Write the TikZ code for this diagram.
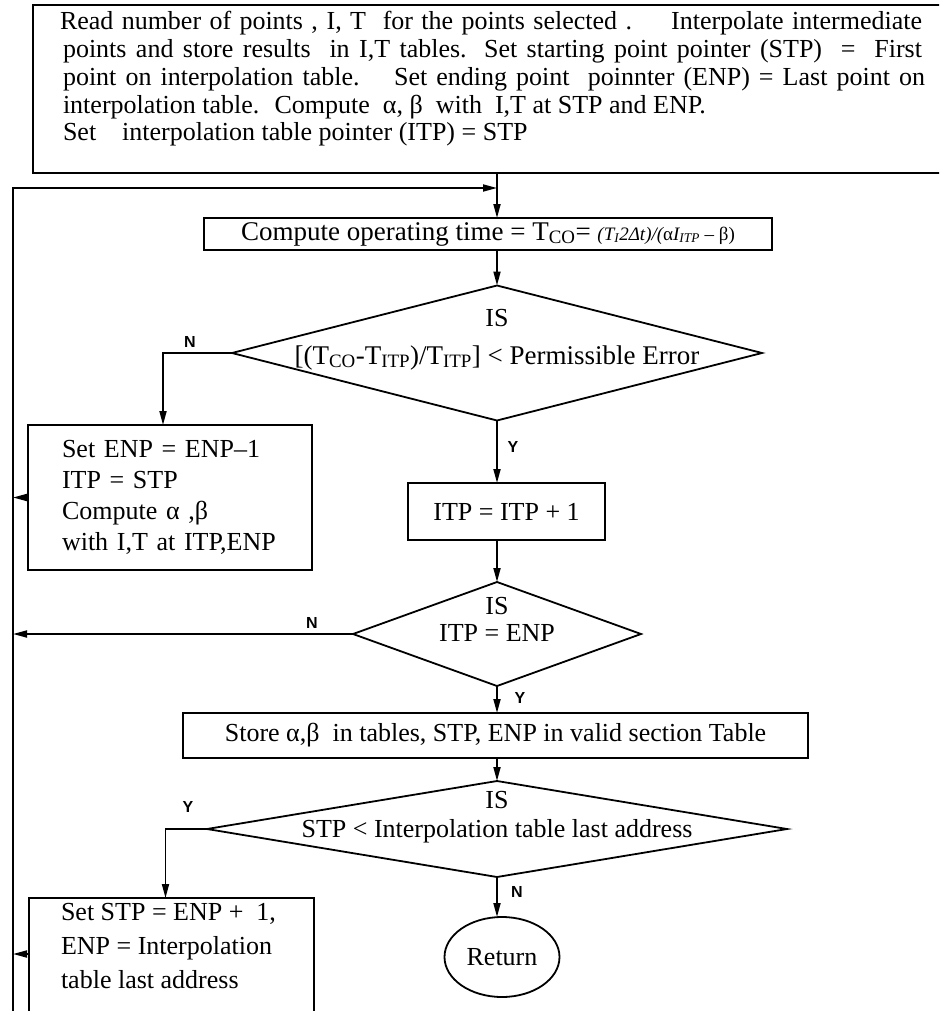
\documentclass[tikz,border=0pt]{standalone}
\usepackage{fontspec}
\setmainfont{Liberation Serif}
\newfontfamily\lblfont{Liberation Sans}
\usetikzlibrary{shapes.geometric,arrows.meta}
\begin{document}
\begin{tikzpicture}[x=1pt,y=-1pt,
  every node/.style={inner sep=0pt,outer sep=0pt},
  ln/.style={line width=1.8pt},
  arr/.style={ln,-{Triangle[length=14pt,width=7pt]}},
  boxst/.style={draw,ln,rectangle},
  dia/.style={draw,ln,diamond},
  bt/.style={font=\fontsize{26}{31}\selectfont},
  tt/.style={font=\fontsize{26}{28}\selectfont},
  yn/.style={font=\lblfont\bfseries\fontsize{16}{16}\selectfont}
]
\useasboundingbox (0,0) rectangle (939,1011);
\clip (0,0) rectangle (939,1011);

% top box
\node[boxst, anchor=north west, minimum width=912pt, minimum height=168pt] (top) at (33,5) {};
\node[tt, anchor=base west] (t1) at (60,30) {\makebox[862pt][s]{Read number of points , I, T \ for the points selected . \ \ \ Interpolate intermediate}};
\node[tt, anchor=base west] (t2) at (63,58) {\makebox[859pt][s]{points and store results \ in I,T tables. Set starting point pointer (STP) \ = \ First}};
\node[tt, anchor=base west] (t3) at (63,86) {\makebox[862pt][s]{point on interpolation table. \ \ Set ending point \ poinnter (ENP) = Last point on}};
\node[tt, anchor=base west] (t4) at (63,114) {interpolation table. \ Compute \ α, β \ with \ I,T at STP and ENP.};
\node[tt, anchor=base west] (t5) at (63,141) {Set \ \ \ interpolation table pointer (ITP) = STP};

% compute box
\node[boxst, font=\fontsize{27}{31}\selectfont, minimum width=568pt, minimum height=32pt] (cmp) at (488,234)
  {Compute operating time = T\textsubscript{CO}= {\fontsize{19}{19}\selectfont\itshape (T\textsubscript{I}2Δt)/(\upshape α\itshape I\textsubscript{ITP}\upshape\ – β)}};

% diamond 1
\node[dia, minimum width=530pt, minimum height=135pt] (d1) at (497,353) {};
\node[bt, anchor=base] (d1a) at (497,326) {IS};
\node[font=\fontsize{27}{31}\selectfont, anchor=base] (d1b) at (497,364) {[(T\textsubscript{CO}-T\textsubscript{ITP})/T\textsubscript{ITP}] < Permissible Error};

% ENP box
\node[boxst, bt, minimum width=284pt, minimum height=145pt, text width=216pt, align=left] (enp) at (170,497.5)
  {Set ENP = ENP–1\\ITP = STP\\Compute α ,β\\with I,T at ITP,ENP};

% ITP box
\node[boxst, bt, minimum width=197pt, minimum height=57pt] (itp) at (506.5,511.5) {ITP = ITP + 1};

% diamond 2
\node[dia, minimum width=288pt, minimum height=104pt] (d2) at (497,634) {};
\node[bt, anchor=base] (d2a) at (497,614) {IS};
\node[bt, anchor=base] (d2b) at (497,641) {ITP = ENP};

% store box
\node[boxst, bt, minimum width=625pt, minimum height=45pt] (store) at (495.5,735.5)
  {Store α,β \ in tables, STP, ENP in valid section Table};

% diamond 3
\node[dia, minimum width=580pt, minimum height=96pt] (d3) at (497,829) {};
\node[bt, anchor=base] (d3a) at (497,808) {IS};
\node[bt, anchor=base] (d3b) at (497,837) {STP < Interpolation table last address};

% STP box
\node[boxst, anchor=north west, minimum width=285pt, minimum height=140pt] (stp) at (29,898) {};
\node[font=\fontsize{26}{34}\selectfont, anchor=north west, align=left] (stpt) at (61,903)
  {Set STP = ENP + \ 1,\\ENP = Interpolation\\table last address};

% return
\node[draw, ln, ellipse, bt, minimum width=115pt, minimum height=80pt] (ret) at (502,957) {Return};

% feedback line
\coordinate (fbt) at (13,188);
\coordinate (fbb) at (13,1030);
\draw[arr] (fbb) -- (fbt) -- (fbt -| d1.north);

% main flow
\draw[arr] (top.south -| d1.north) -- (cmp.north -| d1.north);
\draw[arr] (cmp.south -| d1.north) -- (d1.north);
\draw[arr] (d1.west) -| ([xshift=-7pt]enp.north);
\draw[arr] (enp.west) -- (enp.west -| fbt);
\draw[arr] (d1.south) -- (itp.north -| d1.south);
\draw[arr] (itp.south -| d1.south) -- (d2.north);
\draw[arr] (d2.west) -- (d2.west -| fbt);
\draw[arr] (d2.south) -- (store.north -| d2.south);
\draw[arr] (store.south -| d2.south) -- (d3.north);
\draw[arr] (d3.west) -| ([xshift=-6pt]stp.north);
\draw[arr] (d3.south) -- (ret.north -| d3.south);
\coordinate (stpin) at ([yshift=14pt]stp.west);
\draw[arr] (stpin) -- (stpin -| fbt);

% labels
\node[yn] (n1) at (190,342) {N};
\node[yn] (y1) at (513,447) {Y};
\node[yn] (n2) at (312,623) {N};
\node[yn] (y2) at (520,698) {Y};
\node[yn] (y3) at (188,807) {Y};
\node[yn] (n3) at (517,892) {N};
\end{tikzpicture}
\end{document}
